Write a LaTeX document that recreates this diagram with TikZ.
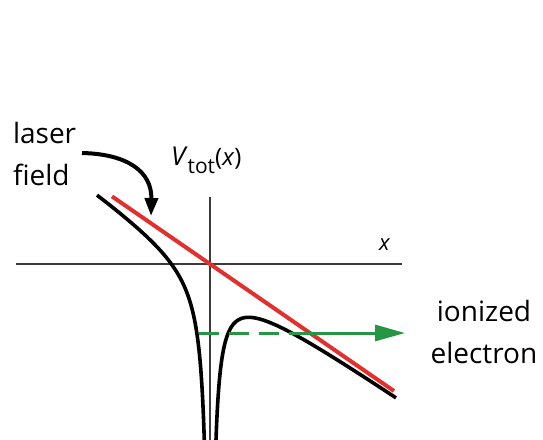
\documentclass[tikz,border=0pt]{standalone}
\usepackage{fontspec}
\setmainfont{Open Sans}
\usetikzlibrary{arrows.meta}
\definecolor{redline}{RGB}{225,48,45}
\definecolor{greenline}{RGB}{38,150,68}
\definecolor{axisgray}{RGB}{60,60,60}
\begin{document}
\begin{tikzpicture}[x=1pt,y=-1pt,
  axisline/.style={draw=axisgray,line width=1.1pt},
  potential/.style={draw=black,line width=3.6pt,line join=round},
  fieldline/.style={draw=redline,line width=4pt},
  electronpath/.style={draw=greenline,line width=3pt},
  bigtext/.style={font=\fontsize{28}{41.5}\selectfont,inner sep=0pt,outer sep=0pt},
  mathtext/.style={inner sep=0pt,outer sep=0pt}]
\useasboundingbox (0,0) rectangle (543,439);
\fill[white] (0,0) rectangle (543,439);
\begin{scope}
\clip (0,0) rectangle (543,439);
% axes
\coordinate (xl) at (16,264);
\coordinate (xr) at (402,264);
\coordinate (yt) at (210,197);
\coordinate (yb) at (210,445);
\draw[axisline] (xl) -- (xr);
\draw[axisline] (yt) -- (yb);
% laser field (red line)
\coordinate (r1) at (112,196.4);
\coordinate (r2) at (394,391);
\draw[fieldline] (r1) -- (r2);
% potential
\begin{scope}[shift={(210,264)}]
\draw[potential] plot[domain=-113:-5.6,samples=700] (\x,{0.69*\x+1030/abs(\x)});
\draw[potential] plot[domain=5.9:186,samples=700] (\x,{0.69*\x+1030/abs(\x)});
\end{scope}
% ionized electron path
\coordinate (g1) at (199,333);
\coordinate (g2) at (300,333);
\coordinate (g3) at (405,333);
\draw[electronpath,dash pattern=on 20pt off 10pt] (g1) -- (g2);
\draw[electronpath,-{Triangle[length=30pt,width=16pt]}] (g2) -- (g3);
\end{scope}
% labels
\node[bigtext,anchor=base west,align=left] (laser) at (13,185) {laser\\field};
\coordinate (la) at (82,153);
\coordinate (lb) at (151,216);
\draw[line width=4pt,-{Triangle[length=18pt,width=13pt]}] (la) .. controls (128,154) and (152,172) .. (lb);
\node[bigtext,anchor=base,align=center] (ion) at (484,363) {ionized\\electron};
\node[mathtext,anchor=base west] (vtot) at (171,165)
  {\fontsize{26}{30}\selectfont\textit{V}\raisebox{-8pt}{\fontsize{21}{24}\selectfont tot}\fontsize{24}{28}\selectfont(\textit{x})};
\node[mathtext,anchor=base west] (xlab) at (379,250) {\fontsize{22}{26}\selectfont\textit{x}};
\end{tikzpicture}
\end{document}
